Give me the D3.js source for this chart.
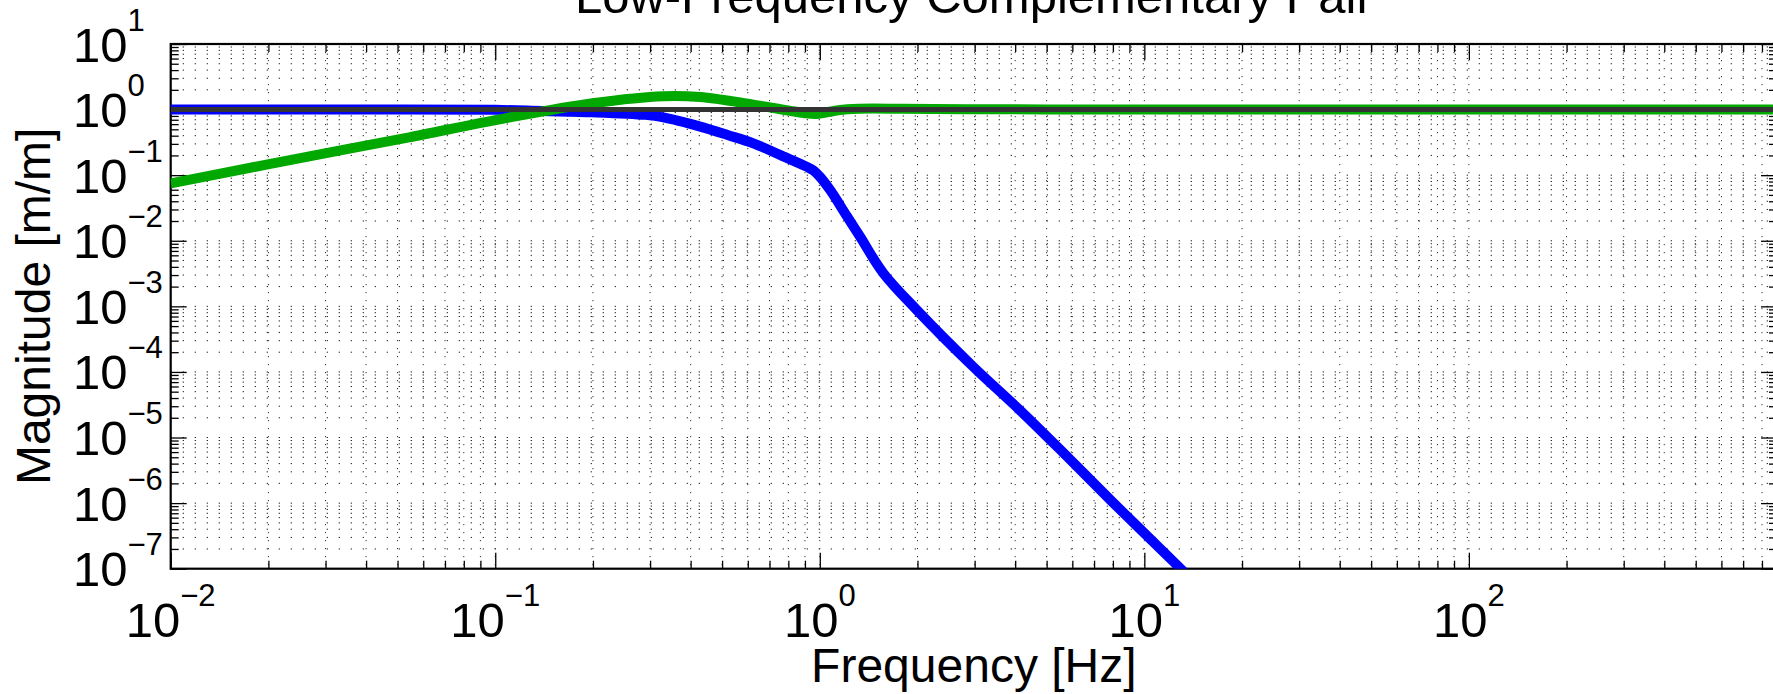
<!DOCTYPE html>
<html>
<head>
<meta charset="utf-8">
<script src="https://cdn.jsdelivr.net/npm/d3@7"></script>
<style>
  html, body { margin: 0; padding: 0; background: #fff; }
  svg { display: block; font-family: "Liberation Sans", Arial, Helvetica, sans-serif; }
</style>
</head>
<body>
<svg id="chart" width="1773" height="694"></svg>
<script>
// ---- chart text ----
const titleText = "Low-Frequency Complementary Pair";
const xLabelText = "Frequency [Hz]";
const yLabelText = "Magnitude [m/m]";

// ---- axis ranges and tick decades ----
const freqRange = [0.01, 890];
const magRange = [1e-7, 10];
const xTickExponents = [-2, -1, 0, 1, 2];
const yTickExponents = [-7, -6, -5, -4, -3, -2, -1, 0, 1];

// ---- low-pass filter magnitude (blue) ----
const lowFreq = [0.01, 0.05, 0.1, 0.14, 0.2, 0.29, 0.33, 0.428, 0.52, 0.624, 0.76, 0.91, 0.956, 1.0, 1.077, 1.21, 1.33, 1.57, 1.99, 2.97, 4.14, 5.64, 8.04, 12.6, 15];
const lowMag  = [1.0, 1.0, 0.99, 0.95, 0.91, 0.83, 0.76, 0.55, 0.41, 0.306, 0.2, 0.135, 0.118, 0.095, 0.059, 0.024, 0.0116, 0.0032, 0.00088, 0.00012, 2.6e-5, 5.8e-6, 1.0e-6, 1.14e-7, 4.8e-8];

// ---- high-pass filter magnitude (green) ----
const highFreq = [0.01, 0.0346, 0.0543, 0.107, 0.202, 0.33, 0.428, 0.624, 0.91, 0.98, 1.14, 1.32, 1.8, 2.8, 5, 10, 890];
const highMag  = [0.075, 0.248, 0.378, 0.736, 1.26, 1.6, 1.55, 1.19, 0.877, 0.86, 0.98, 1.03, 1.03, 1.015, 1.005, 1.0, 1.0];

// ---- sum of the pair (dark line) ----
const sumFreq = [0.01, 890];
const sumMag  = [1, 1];

// ---- layout ----
const plot = { left: 170.7, right: 1777, top: 44, bottom: 568.7 };
const labelFont = 49, supFont = 31, supRise = 31;

const svg = d3.select("#chart");

const x = d3.scaleLog().domain(freqRange).range([plot.left, plot.right]);
const y = d3.scaleLog().domain(magRange).range([plot.bottom, plot.top]);

// major and minor tick values per decade
function logTicks(lo, hi) {
  const out = [];
  for (let e = Math.floor(Math.log10(lo)); e <= Math.ceil(Math.log10(hi)); e++) {
    for (let m = 1; m <= 9; m++) {
      const v = m * Math.pow(10, e);
      if (v >= lo * 0.9999 && v <= hi * 1.0001) out.push({ v, major: m === 1 });
    }
  }
  return out;
}
const xTicks = logTicks(freqRange[0], freqRange[1]);
const yTicks = logTicks(magRange[0], magRange[1]);
const xMajor = xTicks.filter(d => d.major).map(d => d.v);
const xMinor = xTicks.filter(d => !d.major).map(d => d.v);
const yMajor = yTicks.filter(d => d.major).map(d => d.v);
const yMinor = yTicks.filter(d => !d.major).map(d => d.v);

svg.append("defs").append("clipPath").attr("id", "plotClip")
  .append("rect")
  .attr("x", plot.left).attr("y", plot.top)
  .attr("width", plot.right - plot.left).attr("height", plot.bottom - plot.top);

// ---- dotted grid ----
const grid = svg.append("g").attr("class", "grid").attr("clip-path", "url(#plotClip)");
grid.selectAll("line.h").data(yTicks).join("line")
  .attr("class", "h")
  .attr("x1", plot.left).attr("x2", plot.right)
  .attr("y1", d => y(d.v)).attr("y2", d => y(d.v))
  .attr("stroke", "#222").attr("stroke-width", 1)
  .attr("stroke-dasharray", "1.3 10.7");
grid.selectAll("line.v").data(xTicks).join("line")
  .attr("class", "v")
  .attr("x1", d => x(d.v)).attr("x2", d => x(d.v))
  .attr("y1", plot.top).attr("y2", plot.bottom)
  .attr("stroke", "#333").attr("stroke-width", 1)
  .attr("stroke-dasharray", "1.2 6.8");

// ---- axes (inward ticks on all four sides) ----
const axes = svg.append("g").attr("class", "axes");
function addAxis(axisFn, scale, values, size, transform) {
  axes.append("g")
    .attr("transform", transform)
    .call(axisFn(scale).tickValues(values).tickSize(size).tickFormat(""))
    .call(g => g.selectAll("line").attr("stroke", "#000").attr("stroke-width", 1.3))
    .call(g => g.select(".domain").remove());
}
addAxis(d3.axisBottom, x, xMajor, -16, `translate(0,${plot.bottom})`);
addAxis(d3.axisBottom, x, xMinor, -8, `translate(0,${plot.bottom})`);
addAxis(d3.axisTop, x, xMajor, -16, `translate(0,${plot.top})`);
addAxis(d3.axisTop, x, xMinor, -8, `translate(0,${plot.top})`);
addAxis(d3.axisLeft, y, yMajor, -16, `translate(${plot.left},0)`);
addAxis(d3.axisLeft, y, yMinor, -8, `translate(${plot.left},0)`);
addAxis(d3.axisRight, y, yMajor, -16, `translate(${plot.right},0)`);
addAxis(d3.axisRight, y, yMinor, -8, `translate(${plot.right},0)`);

axes.append("rect")
  .attr("x", plot.left).attr("y", plot.top)
  .attr("width", plot.right - plot.left).attr("height", plot.bottom - plot.top)
  .attr("fill", "none").attr("stroke", "#000").attr("stroke-width", 2.2);

// ---- curves ----
const curves = svg.append("g").attr("clip-path", "url(#plotClip)");
function drawSeries(freqs, mags, color, width) {
  const pts = freqs.map((f, i) => [f, mags[i]]);
  const line = d3.line()
    .x(d => x(d[0]))
    .y(d => y(d[1]))
    .curve(d3.curveCatmullRom.alpha(0.5));
  curves.append("path")
    .attr("d", line(pts))
    .attr("fill", "none")
    .attr("stroke", color)
    .attr("stroke-width", width)
    .attr("stroke-linejoin", "round");
}
drawSeries(lowFreq, lowMag, "#0000ff", 10);
drawSeries(highFreq, highMag, "#00a800", 10);
drawSeries(sumFreq, sumMag, "#333333", 5);

// ---- tick labels: 10 with superscript exponent ----
function expLabel(sel, e) {
  sel.append("tspan").text("10");
  sel.append("tspan")
    .attr("font-size", supFont)
    .attr("dy", -supRise)
    .text(e < 0 ? "\u2212" + Math.abs(e) : String(e));
}
const labels = svg.append("g").attr("fill", "#000");
xTickExponents.forEach(e => {
  labels.append("text")
    .attr("x", x(Math.pow(10, e)))
    .attr("y", 637)
    .attr("font-size", labelFont)
    .attr("text-anchor", "middle")
    .call(expLabel, e);
});
yTickExponents.forEach(e => {
  labels.append("text")
    .attr("x", 73)
    .attr("y", y(Math.pow(10, e)) + 0.358 * labelFont)
    .attr("font-size", labelFont)
    .attr("text-anchor", "start")
    .call(expLabel, e);
});

// ---- title and axis labels ----
const midX = (plot.left + plot.right) / 2;
const midY = (plot.top + plot.bottom) / 2;
svg.append("text")
  .attr("x", midX).attr("y", 13)
  .attr("font-size", 49).attr("text-anchor", "middle")
  .text(titleText);
svg.append("text")
  .attr("x", midX).attr("y", 682)
  .attr("font-size", 48).attr("text-anchor", "middle")
  .text(xLabelText);
svg.append("text")
  .attr("transform", `translate(50,${midY}) rotate(-90)`)
  .attr("font-size", 48).attr("text-anchor", "middle")
  .text(yLabelText);
</script>
</body>
</html>
